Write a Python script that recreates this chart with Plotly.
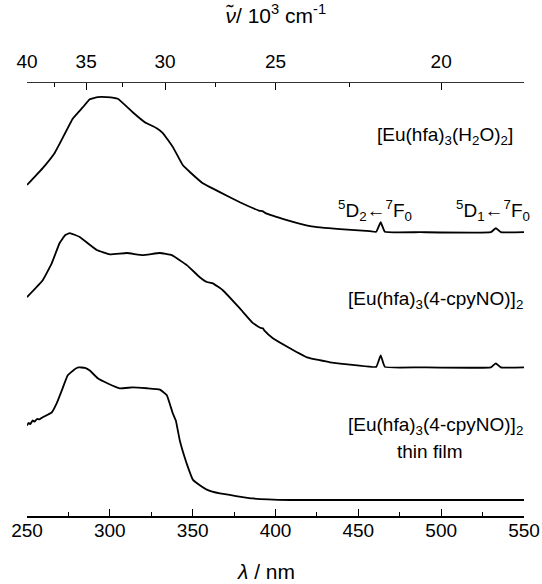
import plotly.graph_objects as go

# Wavelength (nm) and normalised absorbance (arbitrary units, relative to baseline)
wl_h2o = [250.0, 259.5, 266.7, 270.5, 277.6, 283.6, 287.9, 292.7, 298.1, 304.8,
          313.8, 321.1, 328.3, 332.0, 338.0, 344.0, 348.3, 356.1, 366.4, 378.5, 390.0,
          392.4, 394.0, 406.9, 420.8, 438.9, 457.0, 460.8, 463.5, 466.0, 487.2, 530.0,
          533.0, 536.0, 550.0]
ab_h2o = [0.109, 0.148, 0.183, 0.210, 0.262, 0.288, 0.307, 0.312, 0.312, 0.308,
          0.277, 0.254, 0.240, 0.229, 0.197, 0.155, 0.139, 0.113, 0.0925, 0.069, 0.050,
          0.048, 0.044, 0.028, 0.0139, 0.0069, 0.0023, 0.001, 0.023, 0.001, 0.0, 0.0,
          0.0092, 0.0, 0.0]

wl_cpy = [250.0, 259.5, 264.9, 269.7, 273.0, 275.8, 281.8, 292.1, 300.0, 310.3, 319.9,
          330.2, 337.4, 346.5, 354.3, 358.6, 362.2, 368.2, 378.5, 386.4, 391.0, 392.4,
          393.5, 398.4, 408.7, 419.0, 432.9, 449.2, 460.8, 463.5, 466.0, 487.2, 530.0,
          533.0, 536.0, 550.0]
ab_cpy = [0.162, 0.201, 0.240, 0.287, 0.305, 0.310, 0.301, 0.271, 0.261, 0.264, 0.259,
          0.264, 0.259, 0.236, 0.208, 0.197, 0.194, 0.178, 0.136, 0.102, 0.091, 0.090,
          0.084, 0.067, 0.044, 0.023, 0.0116, 0.0046, 0.001, 0.0277, 0.001, 0.0, 0.0,
          0.0092, 0.0, 0.0]

wl_film = [250.0, 251.0, 252.0, 253.4, 254.5, 256.0, 257.5, 259.5, 262.0, 264.9, 267.9,
           271.0, 274.6, 278.8, 281.0, 283.0, 285.0, 287.9, 292.7, 298.8, 306.0, 313.8,
           322.3, 330.2, 334.4, 338.0, 339.8, 342.2, 345.2, 346.4, 350.1, 354.3, 358.5,
           366.4, 386.4, 408.7, 550.0]
ab_film = [0.172, 0.178, 0.175, 0.184, 0.181, 0.187, 0.186, 0.191, 0.196, 0.202, 0.223,
           0.253, 0.288, 0.302, 0.306, 0.306, 0.305, 0.299, 0.281, 0.269, 0.258, 0.260,
           0.258, 0.255, 0.242, 0.200, 0.184, 0.138, 0.098, 0.084, 0.047, 0.034, 0.024,
           0.015, 0.0035, 0.0, 0.0]

offsets = [0.6555, 0.3434, 0.037]

nu_ticks = [40, 35, 30, 25, 20]          # 10^3 cm^-1
nu_minor = [37.5, 32.5, 27.5, 22.5]
x_ticks = [250, 300, 350, 400, 450, 500, 550]

FONT = "Liberation Sans, Arial, sans-serif"

fig = go.Figure()
for wl, ab, off in [(wl_h2o, ab_h2o, offsets[0]), (wl_cpy, ab_cpy, offsets[1]),
                    (wl_film, ab_film, offsets[2])]:
    fig.add_trace(go.Scatter(x=wl, y=[a + off for a in ab], mode="lines",
                             line=dict(color="black", width=1.8, shape="spline", smoothing=0.3),
                             showlegend=False, hoverinfo="skip"))

# invisible trace for the top (wavenumber) axis
fig.add_trace(go.Scatter(x=[250, 550], y=[None, None], xaxis="x2", mode="lines",
                         showlegend=False, hoverinfo="skip"))

fig.update_layout(
    width=542, height=584,
    margin=dict(l=27, r=18, t=83, b=68, autoexpand=False),
    plot_bgcolor="white", paper_bgcolor="white",
    font=dict(family=FONT, color="black", size=19),
    xaxis=dict(range=[250, 550], tickmode="array", tickvals=x_ticks, automargin=False,
               ticks="inside", ticklen=7, tickwidth=1.3, tickcolor="black",
               showline=True, linecolor="black", linewidth=1.5, showgrid=False,
               zeroline=False, tickfont=dict(size=19), ticklabelstandoff=-4,
               minor=dict(dtick=25, tick0=250, ticks="inside", ticklen=4,
                          tickcolor="black", tickwidth=1.1)),
    xaxis2=dict(range=[250, 550], overlaying="x", side="top", anchor="y", automargin=False,
                tickmode="array", tickvals=[1e4 / n for n in nu_ticks],
                ticktext=[str(n) for n in nu_ticks],
                ticks="inside", ticklen=7, tickwidth=1.3, tickcolor="black",
                showline=True, linecolor="#333333", linewidth=1.2, showgrid=False,
                zeroline=False, tickfont=dict(size=19), ticklabelstandoff=6,
                minor=dict(tickmode="array", tickvals=[1e4 / n for n in nu_minor],
                           ticks="inside", ticklen=4, tickcolor="black", tickwidth=1.1)),
    yaxis=dict(range=[0, 1], visible=False, showgrid=False, zeroline=False),
)

def px(nm):
    return (nm - 250) / 300.0

ann = dict(showarrow=False, font=dict(family=FONT, size=19, color="black"),
           xref="paper", yref="paper")
big = dict(family=FONT, size=21, color="black")
fig.add_annotation(x=0.481, y=-0.128, xanchor="center", yanchor="middle",
                   text="<i>λ</i> / nm", **{**ann, "font": big})
fig.add_annotation(x=0.5, y=1.16, xanchor="center", yanchor="middle",
                   text="<i>ν̃</i>/ 10<sup>3</sup> cm<sup>-1</sup>", **{**ann, "font": big})
fig.add_annotation(x=px(544.5), y=0.877, xanchor="right", yanchor="middle",
                   text="[Eu(hfa)<sub>3</sub>(H<sub>2</sub>O)<sub>2</sub>]", **ann)
fig.add_annotation(x=px(460), y=0.705, xanchor="center", yanchor="middle",
                   text="<sup>5</sup>D<sub>2</sub>←<sup>7</sup>F<sub>0</sub>", **ann)
fig.add_annotation(x=px(531), y=0.705, xanchor="center", yanchor="middle",
                   text="<sup>5</sup>D<sub>1</sub>←<sup>7</sup>F<sub>0</sub>", **ann)
fig.add_annotation(x=px(550.5), y=0.5, xanchor="right", yanchor="middle",
                   text="[Eu(hfa)<sub>3</sub>(4-cpyNO)]<sub>2</sub>", **ann)
fig.add_annotation(x=px(550.5), y=0.209, xanchor="right", yanchor="middle",
                   text="[Eu(hfa)<sub>3</sub>(4-cpyNO)]<sub>2</sub>", **ann)
fig.add_annotation(x=px(493), y=0.149, xanchor="center", yanchor="middle",
                   text="thin film", **ann)

# remove the page's default 8 px body margin so the figure fills the window exactly
fig.write_html("out.html", config={"displayModeBar": False},
               post_script="document.body.style.margin='0';document.body.style.overflow='hidden';")
